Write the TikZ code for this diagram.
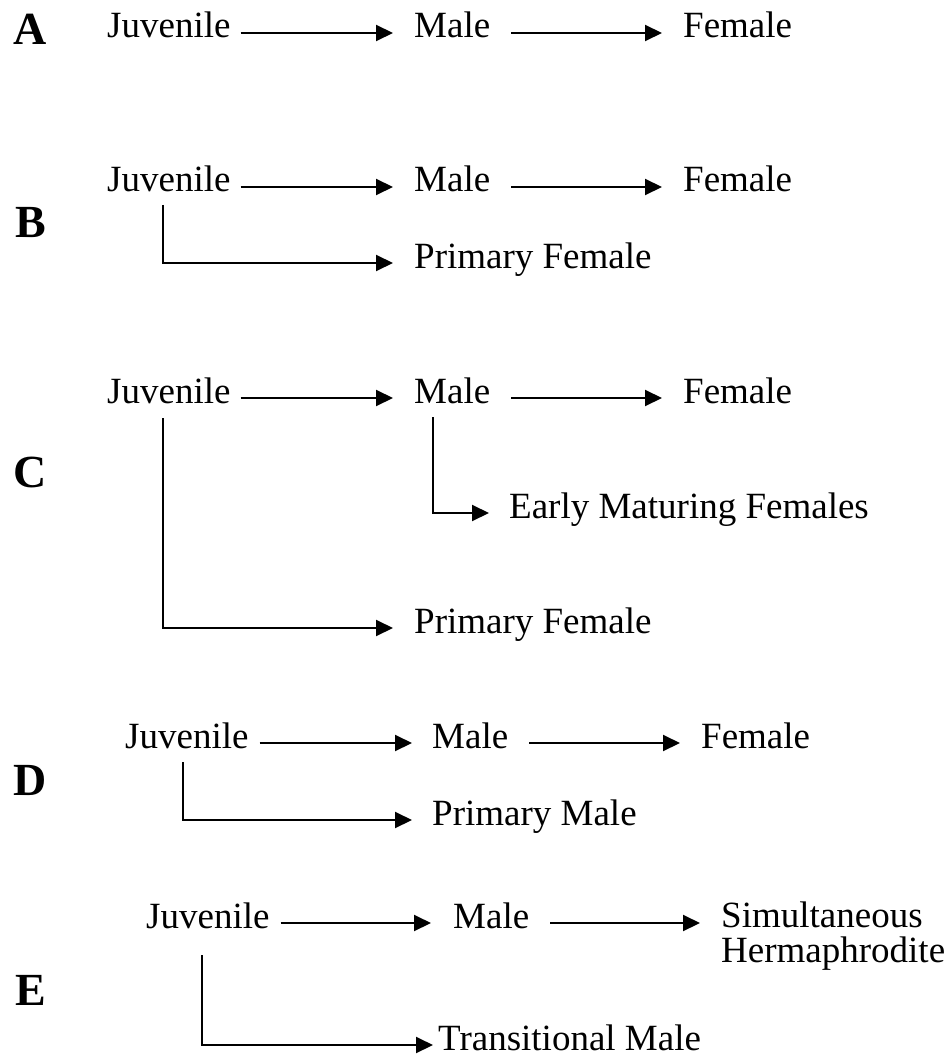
\documentclass[tikz,border=0pt]{standalone}
\usepackage{fontspec}
\setmainfont{Liberation Serif}
\usetikzlibrary{arrows.meta}
\begin{document}
\begin{tikzpicture}[x=1pt,y=-1pt,
  txt/.style={inner sep=0pt,anchor=base west,font=\fontsize{37pt}{44pt}\selectfont},
  lbl/.style={inner sep=0pt,anchor=base west,font=\fontsize{46pt}{50pt}\selectfont\bfseries},
  arr/.style={line width=2pt,-{Triangle[length=17pt,width=16pt]}},
  elbow/.style={line width=2pt,-{Triangle[length=17pt,width=16pt]}}]
\useasboundingbox (0,0) rectangle (951,1059);
% A
\node[lbl] (la) at (13,45) {A};
\node[txt] (ja) at (107,38) {Juvenile};
\node[txt] (ma) at (414,38) {Male};
\node[txt] (fa) at (683,38) {Female};
\draw[arr] ([xshift=10pt,yshift=5pt]ja.base east) -- ([xshift=-21pt,yshift=5pt]ma.base west);
\draw[arr] ([xshift=21pt,yshift=5pt]ma.base east) -- ([xshift=-21pt,yshift=5pt]fa.base west);
% B
\node[lbl] (lb) at (15,238) {B};
\node[txt] (jb) at (107,192) {Juvenile};
\node[txt] (mb) at (414,192) {Male};
\node[txt] (fb) at (683,192) {Female};
\node[txt] (pfb) at (414,268) {Primary Female};
\draw[arr] ([xshift=10pt,yshift=5pt]jb.base east) -- ([xshift=-21pt,yshift=5pt]mb.base west);
\draw[arr] ([xshift=21pt,yshift=5pt]mb.base east) -- ([xshift=-21pt,yshift=5pt]fb.base west);
\draw[elbow] ([xshift=56pt,yshift=-13pt]jb.base west) |- ([xshift=-21pt,yshift=5pt]pfb.base west);
% C
\node[lbl] (lc) at (13,487) {C};
\node[txt] (jc) at (107,403) {Juvenile};
\node[txt] (mc) at (414,403) {Male};
\node[txt] (fc) at (683,403) {Female};
\node[txt] (ec) at (509,518) {Early Maturing Females};
\node[txt] (pfc) at (414,633) {Primary Female};
\draw[arr] ([xshift=10pt,yshift=5pt]jc.base east) -- ([xshift=-21pt,yshift=5pt]mc.base west);
\draw[arr] ([xshift=21pt,yshift=5pt]mc.base east) -- ([xshift=-21pt,yshift=5pt]fc.base west);
\draw[elbow] ([xshift=19pt,yshift=-14pt]mc.base west) |- ([xshift=-20pt,yshift=5pt]ec.base west);
\draw[elbow] ([xshift=56pt,yshift=-15pt]jc.base west) |- ([xshift=-21pt,yshift=5pt]pfc.base west);
% D
\node[lbl] (ld) at (13,795) {D};
\node[txt] (jd) at (125,748) {Juvenile};
\node[txt] (md) at (432,748) {Male};
\node[txt] (fd) at (701,748) {Female};
\node[txt] (pmd) at (432,825) {Primary Male};
\draw[arr] ([xshift=11pt,yshift=5pt]jd.base east) -- ([xshift=-20pt,yshift=5pt]md.base west);
\draw[arr] ([xshift=21pt,yshift=5pt]md.base east) -- ([xshift=-21pt,yshift=5pt]fd.base west);
\draw[elbow] ([xshift=58pt,yshift=-14pt]jd.base west) |- ([xshift=-20pt,yshift=5pt]pmd.base west);
% E
\node[lbl] (le) at (15,1005) {E};
\node[txt] (je) at (146,928) {Juvenile};
\node[txt] (me) at (453,928) {Male};
\node[txt] (se) at (721,927) {Simultaneous};
\node[txt] (he) at (721,962) {Hermaphrodite};
\node[txt] (te) at (438,1050) {Transitional Male};
\draw[arr] ([xshift=11pt,yshift=5pt]je.base east) -- ([xshift=-22pt,yshift=5pt]me.base west);
\draw[arr] ([xshift=21pt,yshift=5pt]me.base east) -- ([xshift=-21pt,yshift=4pt]se.base west);
\draw[elbow] ([xshift=56pt,yshift=-27pt]je.base west) |- ([xshift=-5pt,yshift=5pt]te.base west);
\end{tikzpicture}
\end{document}
